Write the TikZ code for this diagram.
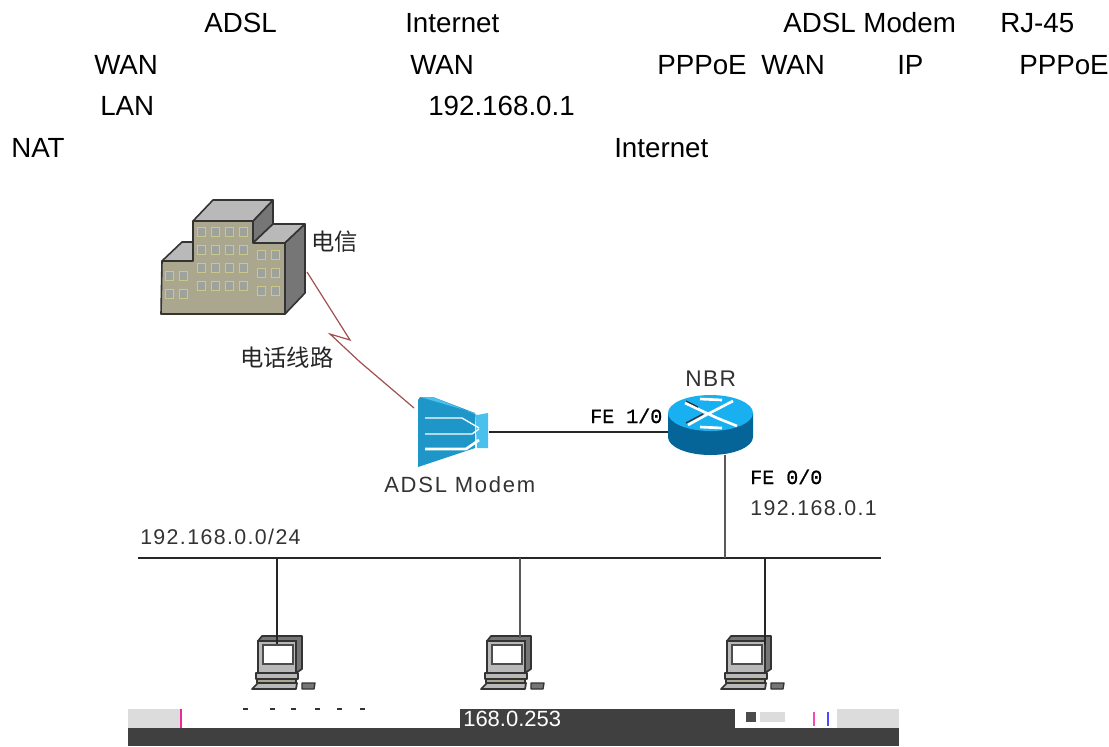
\documentclass[tikz,border=0pt]{standalone}
\usepackage{fontspec}
\setmainfont{Liberation Sans}
\newfontfamily\cjkf{Noto Sans CJK SC}
\newfontfamily\monof{Liberation Mono}[FakeBold=1]
\newfontfamily\widef{Liberation Sans}[LetterSpace=6.5]
\newfontfamily\widerf{Liberation Sans}[LetterSpace=8]
\definecolor{wall}{HTML}{ABA68E}
\definecolor{roof}{HTML}{B9B9B9}
\definecolor{side}{HTML}{767676}
\definecolor{edge}{HTML}{333333}
\definecolor{win}{HTML}{9DA29C}
\definecolor{winb}{HTML}{C8C888}
\definecolor{mblue}{HTML}{1E96C8}
\definecolor{mlight}{HTML}{4CC0EC}
\definecolor{rtop}{HTML}{18B0F0}
\definecolor{rside}{HTML}{056498}
\definecolor{darkbar}{HTML}{404040}
\definecolor{patch}{HTML}{DCDCDC}
\definecolor{lnk}{HTML}{A05050}
\tikzset{
 x=0.75pt,y=-0.75pt,
 toptext/.style={anchor=base west,inner sep=0,font=\fontsize{20.8}{24}\selectfont},
 dlabel/.style={anchor=base west,inner sep=0,text=black!80,font=\widef\fontsize{16}{18}\selectfont},
 cjklabel/.style={anchor=base west,inner sep=0,text=black!85,font=\cjkf\fontsize{17.5}{20}\selectfont},
 felabel/.style={anchor=base west,inner sep=0,font=\monof\fontsize{15}{18}\selectfont},
 wire/.style={draw=black!85,line width=0.9pt},
 wire2/.style={draw=black!65,line width=1.1pt},
 bldg/.style={draw=edge,line width=1.2pt,line join=round},
 winbox/.style={fill=win,draw=winb,line width=0.5pt},
 pcpart/.style={draw=edge,line width=1.3pt,line join=round},
 pc/.pic={
  \path[pcpart,fill=side] (10,0)--(50,0)--(50,33)--(44,37)--(6,37)--(6,5)--cycle;
  \path[draw=edge,fill=roof,line width=1pt] (6,5) rectangle (44,37);
  \path[draw=black!70,fill=white,line width=1pt] (11,9) rectangle (41,28);
  \path[pcpart,fill=roof] (4,37) rectangle (46,43);
  \path[pcpart,fill=wall] (5,43) rectangle (44,47);
  \path[pcpart,fill=roof] (6,47)--(45,47)--(44,53)--(0,53)--cycle;
  \path[pcpart,fill=side,line width=1pt] (50,47)--(63,47)--(62,53)--(50,53)--cycle;
 }
}
\begin{document}
\begin{tikzpicture}
\useasboundingbox (0,0) rectangle (1109,746);
\fill[white] (0,0) rectangle (1109,746);
% body text
\node[toptext] (t1) at (204,32) {ADSL};
\node[toptext] (t2) at (405,32) {Internet};
\node[toptext] (t3) at (783,32) {ADSL Modem};
\node[toptext] (t4) at (1000,32) {RJ-45};
\node[toptext] (t5) at (94,74) {WAN};
\node[toptext] (t6) at (410,74) {WAN};
\node[toptext] (t7) at (657,74) {PPPoE};
\node[toptext] (t8) at (761,74) {WAN};
\node[toptext] (t9) at (897,74) {IP};
\node[toptext] (t10) at (1019,74) {PPPoE};
\node[toptext] (t11) at (100,115) {LAN};
\node[toptext] (t12) at (428,115) {192.168.0.1};
\node[toptext] (t13) at (11,157) {NAT};
\node[toptext] (t14) at (614,157) {Internet};
% building
\path[bldg,fill=side] (253,221)--(273,200)--(273,224)--(253,243)--cycle;
\path[bldg,fill=roof] (193,221)--(213,200)--(273,200)--(253,221)--cycle;
\path[bldg,fill=roof] (162,261)--(182,242)--(193,242)--(193,261)--cycle;
\path[bldg,fill=roof] (253,243)--(273,224)--(305,224)--(285,243)--cycle;
\path[bldg,fill=side] (285,243)--(305,224)--(305,293)--(285,314)--cycle;
\path[bldg,fill=wall] (162,261)--(193,261)--(193,221)--(253,221)--(253,243)--(285,243)--(285,314)--(161,314)--cycle;
\foreach \a in {197,211,225,239}\foreach \b in {227,245,263,281}
  \path[winbox] (\a,\b) rectangle ++(8,9);
\foreach \a in {257,271}\foreach \b in {250,268,286}
  \path[winbox] (\a,\b) rectangle ++(8,9);
\foreach \a in {165,179}\foreach \b in {271,289}
  \path[winbox] (\a,\b) rectangle ++(8,9);
\node[cjklabel] (telecom) at (311,250) {电信};
\node[cjklabel] (phone) at (240,366) {电话线路};
% modem
\path[fill=mblue] (418,400)--(420,397)--(433,397)--(475,413)--(475,448)--(418,467)--cycle;
\path[fill=mlight] (420,397)--(433,397)--(477,415)--(488,413)--(488,448)--(477,448)--(475,413)--cycle;
\draw[white,line width=1pt] (425,418)--(462,418)--(479,428);
\draw[white,line width=1pt] (425,434)--(472,434)--(479,429);
\draw[white,line width=2pt] (425,449)--(466,449)--(479,440);
\coordinate (modemin) at (414,408);
\coordinate (modemout) at (489,432);
\node[dlabel,font=\widerf\fontsize{16.5}{18}\selectfont] (modemlabel) at (384,492) {ADSL Modem};
% lightning link
\coordinate (bldglink) at (307,272);
\draw[lnk,line width=0.9pt] (bldglink)--(350,340)--(330,334)--(360,362)--(modemin);
% router
\path[fill=rside] (668,413)--(668,437) arc[start angle=180,end angle=0,x radius=42.5,y radius=18]--(753,413)--cycle;
\path[fill=rtop] (710.5,413) ellipse[x radius=42.5,y radius=18];
\draw[white,line width=2pt] (685,403)--(717,418)--(737,426) (688,425)--(706,415)--(733,401);
\draw[white,line width=2pt] (700,399)--(722,400) (700,427)--(722,428);
\draw[black!80,line width=1pt] (686,401)--(698,407) (686,423)--(703,414);
\coordinate (routerw) at (668,432);
\coordinate (routers) at (725,455);
\node[dlabel,font=\widef\fontsize{17}{18}\selectfont] (nbr) at (685,386) {NBR};
\node[felabel] (fe1) at (590,423) {FE 1/0};
\node[felabel] (fe0) at (750,484) {FE 0/0};
\node[dlabel] (gw) at (750,515) {192.168.0.1};
\draw[wire] (modemout)--(routerw);
% bus
\coordinate (busl) at (138,558);
\coordinate (busr) at (881,558);
\coordinate (busr0) at (725,558);
\coordinate (bus1) at (277,558);
\coordinate (bus2) at (520,558);
\coordinate (bus3) at (765,558);
\draw[wire] (busl)--(busr);
\draw[wire2] (routers)--(busr0);
\node[dlabel] (net) at (140,544) {192.168.0.0/24};
% computers
\pic (pc1) at (252,636) {pc};
\pic (pc2) at (481,636) {pc};
\pic (pc3) at (721,636) {pc};
\coordinate (pc1in) at (277,644);
\coordinate (pc2in) at (520,638);
\coordinate (pc3in) at (765,645);
\draw[wire] (bus1)--(pc1in);
\draw[wire2] (bus2)--(pc2in);
\draw[wire] (bus3)--(pc3in);
% corrupted bottom strip
\fill[darkbar] (128,728) rectangle (899,746);
\fill[darkbar] (460,709) rectangle (735,728);
\fill[patch] (128,709) rectangle (181,728);
\fill[patch] (837,709) rectangle (899,728);
\fill[magenta!85] (180,709) rectangle (182,728);
\fill[white] (735,709) rectangle (837,728);
\fill[black!70] (746,712) rectangle (756,722);
\fill[patch] (760,712) rectangle (785,722);
\fill[magenta!70] (813,712) rectangle (815,726);
\fill[blue!70] (827,712) rectangle (829,726);
\foreach \a in {243,270,291,315,337,360}
  \fill[black!80] (\a,708) rectangle ++(5,2);
\node[anchor=base west,inner sep=0,text=white,font=\fontsize{16.5}{18}\selectfont] (ipb) at (463,726) {168.0.253};
\end{tikzpicture}
\end{document}
